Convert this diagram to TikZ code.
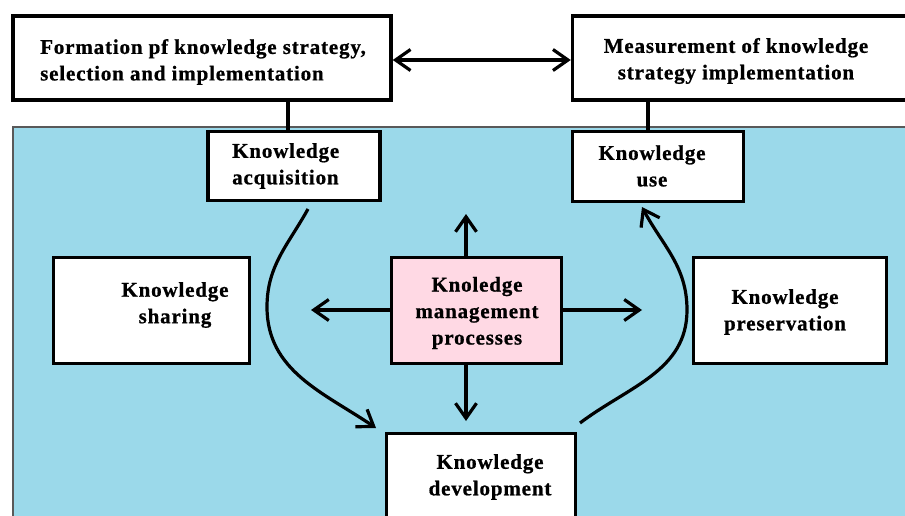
\documentclass[tikz,border=0pt]{standalone}
\usepackage{fontspec}
\setmainfont{Liberation Serif}
\newfontfamily\boxfont[LetterSpace=4,FakeBold=0.8]{Liberation Serif}
\usetikzlibrary{arrows.meta,calc}
\definecolor{bluebg}{RGB}{155,217,234}
\definecolor{pinkbox}{RGB}{255,217,228}
\tikzset{
  box/.style={draw=black,line width=3.5pt,fill=white,rectangle,inner sep=0pt},
  txt/.style={font=\boxfont\bfseries\fontsize{21}{26.5}\selectfont,inner sep=0pt,text=black},
  conn/.style={line width=3.2pt},
  arr/.style={line width=3.2pt,-{Straight Barb[length=15pt,width=21pt,line width=3.2pt]}},
  darr/.style={line width=3.2pt,{Straight Barb[length=15pt,width=21pt,line width=3.2pt]}-{Straight Barb[length=15pt,width=21pt,line width=3.2pt]}}
}
\begin{document}
\begin{tikzpicture}[x=1pt,y=1pt]
\useasboundingbox (0,0) rectangle (905,-516);
\fill[white] (0,0) rectangle (905,-516);
\fill[bluebg] (13,-127) rectangle (910,-520);
\draw[gray!70!black,line width=1.5pt] (13,-520) -- (13,-127) -- (910,-127);

% boxes
\node[box,minimum width=378pt,minimum height=84pt] (fbox) at (202,-58) {};
\node[box,minimum width=334pt,minimum height=84pt] (mbox) at (739.5,-58) {};
\node[box,minimum width=172pt,minimum height=69pt] (acq) at (294,-166) {};
\node[box,minimum width=171pt,minimum height=70pt] (use) at (658,-166.5) {};
\node[box,minimum width=196pt,minimum height=106pt] (share) at (151.5,-310.5) {};
\node[box,fill=pinkbox,minimum width=170pt,minimum height=106pt] (kmp) at (476.5,-310.5) {};
\node[box,minimum width=193pt,minimum height=106pt] (pres) at (790,-310.5) {};
\node[box,minimum width=189pt,minimum height=95pt] (dev) at (481,-481) {};

% texts
\node[txt,anchor=west,align=left] (fboxT) at (40,-62) {Formation pf knowledge strategy,\\selection and implementation};
\node[txt,align=center] (mboxT) at (736,-61) {Measurement of knowledge\\strategy implementation};
\node[txt,anchor=west,align=left] (acqT) at (232,-166) {Knowledge\\acquisition};
\node[txt,align=center] (useT) at (652,-166) {Knowledge\\use};
\node[txt,align=center] (shareT) at (175,-305) {Knowledge\\sharing};
\node[txt,align=center] (kmpT) at (477,-313) {Knoledge\\management\\processes};
\node[txt,align=center] (presT) at (785,-312) {Knowledge\\preservation};
\node[txt,align=center] (devT) at (490,-477) {Knowledge\\development};

% connectors
\draw[darr] ([yshift=-2pt]fbox.east) -- ([yshift=-2pt]fbox.east -| mbox.west);
\draw[conn] ([xshift=-6pt]acq.north) -- ([xshift=-6pt]acq.north |- fbox.south);
\draw[conn] ([xshift=-10pt]use.north) -- ([xshift=-10pt]use.north |- mbox.south);

\coordinate (kup) at (466,-214);
\coordinate (kleft) at (311,-310);
\coordinate (kright) at (642,-310);
\coordinate (kdown) at (466,-421);
\draw[arr] (kmp.north -| kup) -- (kup);
\draw[arr] (kmp.west |- kleft) -- (kleft);
\draw[arr] (kmp.east |- kright) -- (kright);
\draw[arr] (kmp.south -| kdown) -- (kdown);

\coordinate (ls) at (308,-209);
\coordinate (lm) at (267,-307);
\coordinate (le) at (376,-428);
\draw[arr] (ls) to[out=241,in=90] (lm) to[out=270,in=146] (le);
\coordinate (rs) at (580,-423);
\coordinate (rm) at (687,-310);
\coordinate (re) at (642,-207);
\draw[arr] (rs) to[out=37,in=270] (rm) to[out=90,in=298] (re);
\end{tikzpicture}
\end{document}
